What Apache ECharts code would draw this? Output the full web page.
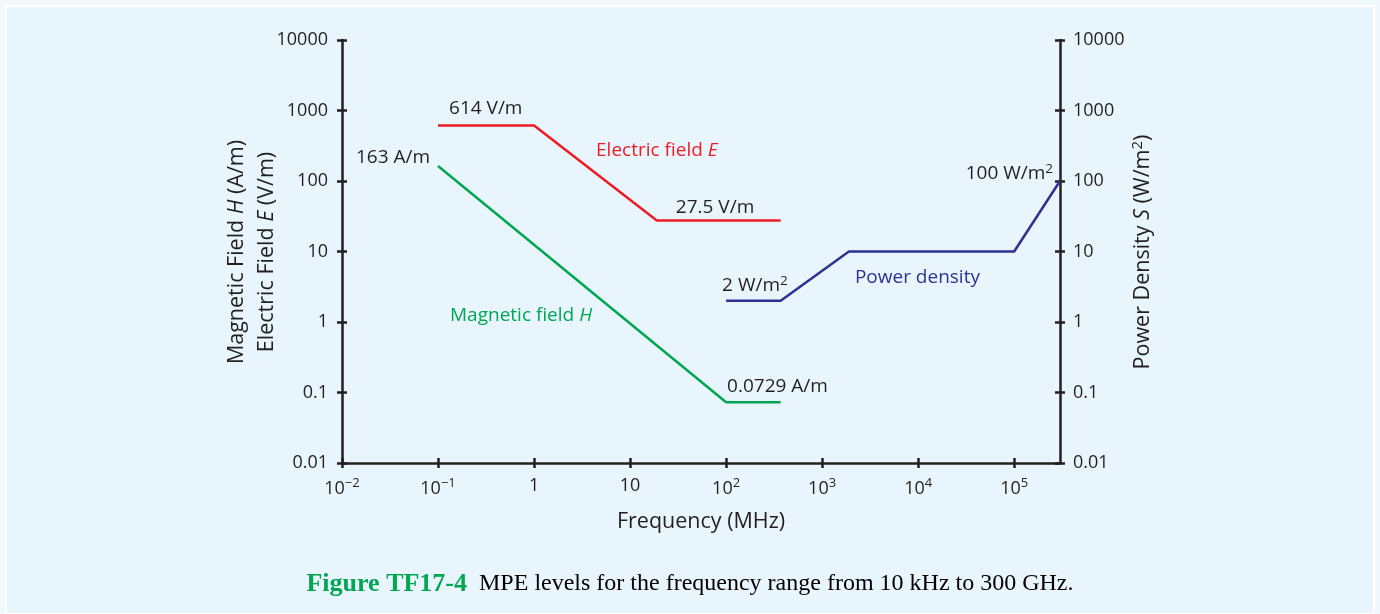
<!DOCTYPE html>
<html><head><meta charset="utf-8">
<script src="https://cdn.jsdelivr.net/npm/echarts@6/dist/echarts.min.js"></script>
<style>
html,body{margin:0;padding:0;background:#f1f9fd;}
#bg{position:absolute;left:5px;top:5px;width:1366px;height:606px;background:#e9f5fc;border:2px solid #ffffff;}
#c{position:absolute;left:0;top:0;width:1380px;height:614px;}
</style></head>
<body><div id="bg"></div><div id="c"></div>
<script>
// ---- data ----
const freqE = [0.1, 1, 19, 370];
const valE  = [614, 614, 27.5, 27.5];
const freqH = [0.1, 100, 370];
const valH  = [163, 0.0729, 0.0729];
const freqS = [100, 370, 1900, 100000, 300000];
const valS  = [2, 2, 10, 10, 100];
const yTickLabels = ['0.01','0.1','1','10','100','1000','10000'];
const xTickValues = [0.01, 0.1, 1, 10, 100, 1000, 10000, 100000];
const xTickLabels = ['10^−2','10^−1','1','10','10^2','10^3','10^4','10^5'];

const INK = '#231f20', RED = '#ed1c24', GREEN = '#00a651', BLUE = '#2e3192';
const FONT = '"Open Sans", "Noto Sans", sans-serif';

function pts(xs, ys){ return xs.map((x,i)=>[x, ys[i]]); }
function xFmt(v){
  const i = Math.round(Math.log10(v)) + 2;
  const s = xTickLabels[i];
  if (s === undefined) return '';
  if (s.indexOf('^') >= 0){ const p = s.split('^'); return '{b|'+p[0]+'}{s|'+p[1]+'}'; }
  return '{b|'+s+'}';
}
function yFmt(v){
  const i = Math.round(Math.log10(v)) + 2;
  return yTickLabels[i] || '';
}
const supRich = {
  b:{fontSize:18, fontFamily:FONT, color:INK},
  s:{fontSize:13, fontFamily:FONT, color:INK, padding:[0,0,10,0]}
};
const lbl = (color)=>({
  n:{fontSize:19, fontFamily:FONT, color:color, opacity:1},
  i:{fontSize:19, fontFamily:FONT, color:color, fontStyle:'italic', opacity:1},
  s:{fontSize:13.5, fontFamily:FONT, color:color, padding:[0,0,10,0], opacity:1}
});
const nameRich = {
  n:{fontSize:21.5, fontFamily:FONT, fill:INK, color:INK, lineHeight:30},
  i:{fontSize:21.5, fontFamily:FONT, fill:INK, color:INK, fontStyle:'italic', lineHeight:30},
  s:{fontSize:15, fontFamily:FONT, fill:INK, color:INK, padding:[0,0,11,0]}
};

const yBase = {type:'log', logBase:10, min:0.01, max:10000, splitLine:{show:false}};
const xBase = {type:'log', logBase:10, min:0.01, max:300000, splitLine:{show:false}};

function annot(point, text, color, align, offset){
  return {value: point, label:{show:true, formatter:text, position:'inside', align:align, verticalAlign:'middle', offset:offset, color:color, textBorderWidth:0, opacity:1, rich: lbl(color)}};
}

const annotations = [
  annot([freqE[0], valE[0]], '{n|614 V/m}', INK, 'left', [11,-17]),
  annot([freqH[0], valH[0]], '{n|163 A/m}', INK, 'right', [-8,-8]),
  annot([freqE[2], valE[2]], '{n|27.5 V/m}', INK, 'left', [19,-13]),
  annot([freqH[1], valH[1]], '{n|0.0729 A/m}', INK, 'left', [1,-16]),
  annot([freqS[0], valS[0]], '{n|2 W/m}{s|2}', INK, 'left', [-4,-15]),
  annot([freqS[4], valS[4]], '{n|100 W/m}{s|2}', INK, 'right', [-7,-7]),
  annot([freqE[1], valE[1]], '{n|Electric field }{i|E}', RED, 'left', [62,25]),
  annot([freqH[0], valH[0]], '{n|Magnetic field }{i|H}', GREEN, 'left', [12,150]),
  annot([freqS[2], valS[2]], '{n|Power density}', BLUE, 'left', [6,26])
];

const chart = echarts.init(document.getElementById('c'), null, {renderer:'canvas'});
chart.setOption({
  backgroundColor:'transparent',
  animation:false,
  title:{
    text:'{a|Figure TF17-4}{b|  MPE levels for the frequency range from 10 kHz to 300 GHz.}',
    left:'center', top:566,
    textStyle:{fontWeight:'normal', rich:{
      a:{fontFamily:'"Liberation Serif", serif', fontWeight:'bold', fontSize:26, color:GREEN},
      b:{fontFamily:'"Liberation Serif", serif', fontWeight:'normal', fontSize:24, color:'#000000'}
    }}
  },
  graphic:[
    {type:'text', x:252, y:252, rotation:Math.PI/2, z:10,
     style:{text:'{n|Magnetic Field }{i|H}{n| (A/m)}\n{n|Electric Field }{i|E}{n| (V/m)}',
            align:'center', verticalAlign:'middle', lineHeight:30, rich:nameRich}},
    {type:'text', x:1143, y:252, rotation:Math.PI/2, z:10,
     style:{text:'{n|Power Density }{i|S}{n| (W/m}{s|2}{n|)}',
            align:'center', verticalAlign:'middle', rich:nameRich}}
  ],
  grid:{left:342, right:320, top:40, bottom:151, containLabel:false},
  xAxis:[
    Object.assign({}, xBase, {
      position:'bottom',
      axisLine:{show:true, lineStyle:{color:INK, width:2.5}},
      axisTick:{show:true, length:5, customValues:xTickValues, lineStyle:{color:INK, width:2.5}},
      axisLabel:{show:true, customValues:xTickValues, margin:14, formatter:xFmt, rich:supRich},
      name:'Frequency (MHz)', nameLocation:'middle', nameGap:48,
      nameTextStyle:{fontSize:21.5, fontFamily:FONT, color:INK, verticalAlign:'top'}
    }),
    Object.assign({}, xBase, {
      position:'bottom',
      axisLine:{show:false},
      axisTick:{show:true, inside:true, length:5, customValues:xTickValues, lineStyle:{color:INK, width:2.5}},
      axisLabel:{show:false}
    })
  ],
  yAxis:[
    Object.assign({}, yBase, {
      position:'left',
      axisLine:{show:true, lineStyle:{color:INK, width:2.5}},
      axisTick:{show:true, length:5, lineStyle:{color:INK, width:2.5}},
      axisLabel:{show:true, margin:14, formatter:yFmt, fontSize:18, fontFamily:FONT, color:INK}
    }),
    Object.assign({}, yBase, {
      position:'right',
      axisLine:{show:true, lineStyle:{color:INK, width:2.5}},
      axisTick:{show:true, length:5, lineStyle:{color:INK, width:2.5}},
      axisLabel:{show:true, margin:13, formatter:yFmt, fontSize:18, fontFamily:FONT, color:INK}
    }),
    Object.assign({}, yBase, {
      position:'left', axisLine:{show:false},
      axisTick:{show:true, inside:true, length:5, lineStyle:{color:INK, width:2.5}},
      axisLabel:{show:false}
    }),
    Object.assign({}, yBase, {
      position:'right', axisLine:{show:false},
      axisTick:{show:true, inside:true, length:5, lineStyle:{color:INK, width:2.5}},
      axisLabel:{show:false}
    })
  ],
  series:[
    {type:'line', name:'E', data:pts(freqE,valE), showSymbol:false, symbol:'none', lineStyle:{color:RED, width:2.5}, z:3},
    {type:'line', name:'H', data:pts(freqH,valH), showSymbol:false, symbol:'none', lineStyle:{color:GREEN, width:2.5}, z:3},
    {type:'line', name:'S', yAxisIndex:1, data:pts(freqS,valS), showSymbol:false, symbol:'none', lineStyle:{color:BLUE, width:2.5}, z:3},
    {type:'scatter', name:'labels', data:annotations, symbol:'circle', symbolSize:2, silent:true, itemStyle:{color:'rgba(0,0,0,0)', opacity:1}, z:5}
  ]
});
</script>
</body></html>
